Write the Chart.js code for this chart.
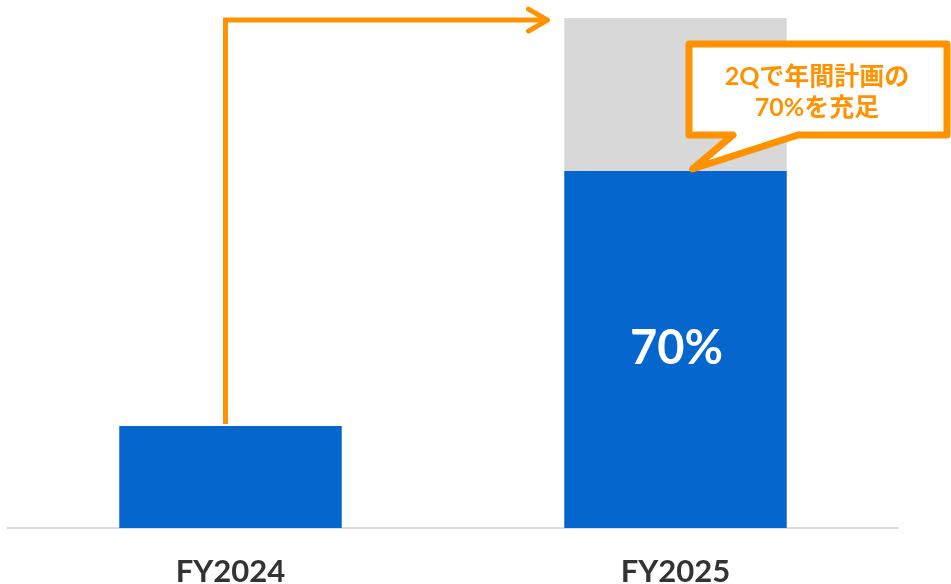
<!DOCTYPE html>
<html>
<head>
<meta charset="utf-8">
<script src="https://cdn.jsdelivr.net/npm/chart.js@4.4.0/dist/chart.umd.min.js"></script>
<style>
  html, body { margin: 0; padding: 0; background: #fff; overflow: hidden; }
  #chart { display: block; }
</style>
</head>
<body>
<canvas id="chart" width="951" height="584"></canvas>
<script>
// values (annual plan = 100)
const years = ["FY2024", "FY2025"];
const actual = [20, 70];
const remaining = [0, 30];
const barLabels = ["", "70%"];
const calloutLines = ["2Qで年間計画の", "70%を充足"];

const orange = "#FF9200";
const fontFamily = "Lato, 'Noto Sans CJK JP', sans-serif";

// orange arrow from FY2024 to FY2025 and the speech bubble
const annotations = {
    id: "annotations",
    afterDatasetsDraw(chart) {
        const ctx = chart.ctx;
        const x = chart.scales.x;
        const y = chart.scales.y;
        const bars = chart.getDatasetMeta(0).data;

        // value label inside the FY2025 bar
        ctx.save();
        ctx.fillStyle = "#fff";
        ctx.font = "bold 47px " + fontFamily;
        ctx.textAlign = "center";
        ctx.textBaseline = "middle";
        bars.forEach((b, i) => {
            if (!barLabels[i]) return;
            ctx.fillText(barLabels[i], b.x + 1, 349);
        });
        ctx.restore();

        // arrow
        const x0 = x.getPixelForValue(0) - 5;
        const x1 = x.getPixelForValue(1) - 128;
        const yTop = y.getPixelForValue(99.6);
        const yStart = bars[0].y - 2;
        ctx.save();
        ctx.strokeStyle = orange;
        ctx.lineWidth = 5;
        ctx.lineJoin = "miter";
        ctx.beginPath();
        ctx.moveTo(x0, yStart);
        ctx.lineTo(x0, yTop);
        ctx.lineTo(x1, yTop);
        ctx.stroke();
        ctx.lineCap = "round";
        ctx.lineJoin = "round";
        ctx.beginPath();
        ctx.moveTo(x1 - 19, yTop - 11);
        ctx.lineTo(x1, yTop);
        ctx.lineTo(x1 - 19, yTop + 11);
        ctx.stroke();
        ctx.restore();

        // speech bubble
        const tipX = bars[1].x + 17;
        const tipY = bars[1].y;
        const bx0 = 689, bx1 = 947, by0 = 44, by1 = 135;
        ctx.save();
        ctx.strokeStyle = orange;
        ctx.fillStyle = "#fff";
        ctx.lineWidth = 7;
        ctx.lineJoin = "round";
        ctx.beginPath();
        ctx.moveTo(bx0, by0);
        ctx.lineTo(bx1, by0);
        ctx.lineTo(bx1, by1);
        ctx.lineTo(798, by1);
        ctx.lineTo(tipX, tipY - 2);
        ctx.lineTo(733, by1);
        ctx.lineTo(bx0, by1);
        ctx.closePath();
        ctx.fill();
        ctx.stroke();
        ctx.fillStyle = orange;
        ctx.font = "bold 25px " + fontFamily;
        ctx.textAlign = "center";
        ctx.textBaseline = "middle";
        calloutLines.forEach((t, i) => ctx.fillText(t, 817, 77 + i * 31));
        ctx.restore();
    }
};

new Chart(document.getElementById("chart"), {
    type: "bar",
    data: {
        labels: years,
        datasets: [
            { label: "実績", data: actual, backgroundColor: "#0567CE", stack: "s",
              categoryPercentage: 1, barPercentage: 0.5 },
            { label: "残り", data: remaining, backgroundColor: "#D8D8D8", stack: "s",
              categoryPercentage: 1, barPercentage: 0.5 }
        ]
    },
    options: {
        responsive: false,
        animation: false,
        devicePixelRatio: 1,
        layout: { padding: { left: 8, right: 53, top: 18, bottom: 0 } },
        plugins: { legend: { display: false }, tooltip: { enabled: false } },
        scales: {
            x: {
                stacked: true,
                grid: { display: false, drawTicks: false },
                border: { display: true, color: "#DDDDDD", width: 2 },
                ticks: {
                    color: "#333333",
                    padding: 25,
                    font: { family: fontFamily, size: 31, weight: "bold" }
                },
                afterFit(scale) { scale.height = 56; }
            },
            y: {
                stacked: true,
                display: false,
                min: 0,
                max: 100
            }
        }
    },
    plugins: [annotations]
});
</script>
</body>
</html>
